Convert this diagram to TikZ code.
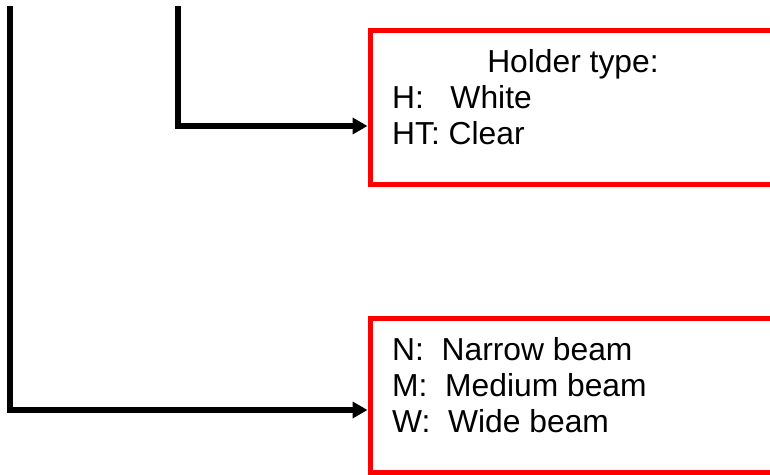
\documentclass[tikz,border=0pt]{standalone}
\usepackage{fontspec}
\setmainfont{Liberation Sans}
\usetikzlibrary{arrows.meta}
\definecolor{boxred}{RGB}{255,0,0}
\tikzset{
  codebox/.style={draw=boxred, line width=5pt, fill=white, rectangle,
    minimum width=410pt, minimum height=154pt, inner sep=0pt},
  entry/.style={inner sep=0pt, font=\fontsize{31.8}{36}\selectfont},
  conn/.style={line width=5.5pt, -{Triangle[length=15pt,width=16pt]}}
}
\begin{document}
\begin{tikzpicture}[x=1pt, y=-1pt]
  \useasboundingbox (0,0) rectangle (770,474);
  \clip (0,0) rectangle (770,474);

  % option boxes
  \node[codebox] (hbox) at (575,107) {};
  \node[codebox] (nbox) at (575,395) {};

  % holder type box
  \node[entry, anchor=base] (htitle) at (573,72) {Holder type:};
  \node[entry, anchor=base west] (hwhite) at (392,108) {H:\ \ \ White};
  \node[entry, anchor=base west] (hclear) at (392,144) {HT:\ Clear};

  % beam width box
  \node[entry, anchor=base west] (bnarrow) at (392,360) {N:\ \ Narrow beam};
  \node[entry, anchor=base west] (bmedium) at (392,396) {M:\ \ Medium beam};
  \node[entry, anchor=base west] (bwide) at (392,432) {W:\ \ Wide beam};

  % feeder lines
  \coordinate (s1) at (10,6);
  \coordinate (s2) at (178,6);
  \draw[conn] (s2) |- ([yshift=-19pt]hbox.west);
  \draw[conn] (s1) |- ([yshift=-15pt]nbox.west);
\end{tikzpicture}
\end{document}
